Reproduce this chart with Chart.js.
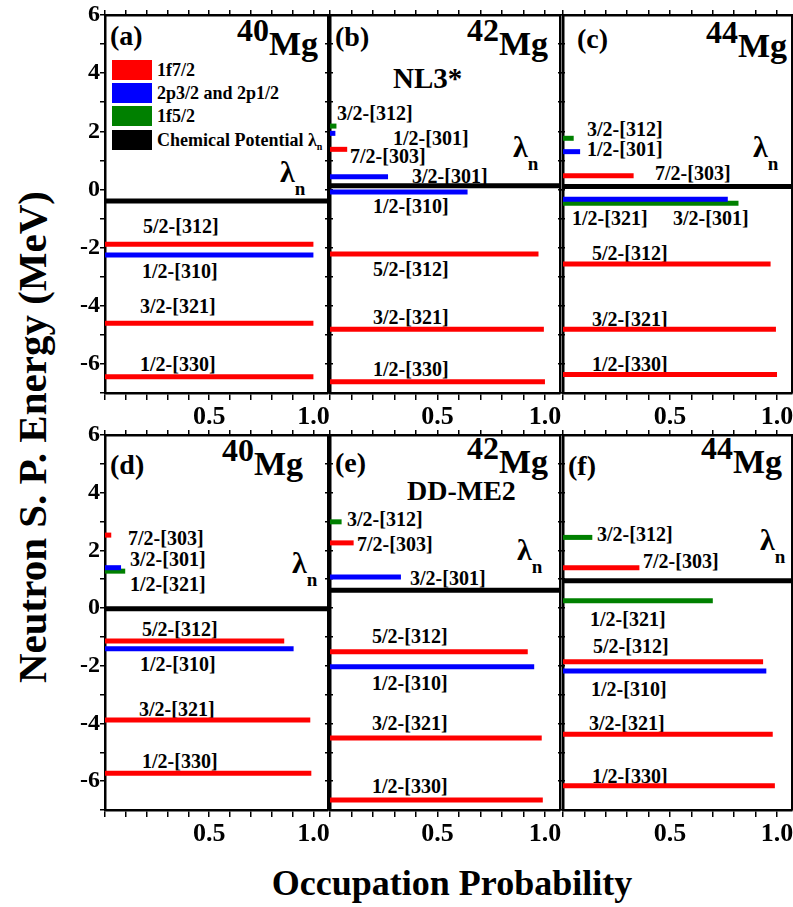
<!DOCTYPE html>
<html lang="en">
<head>
<meta charset="utf-8">
<title>Neutron single-particle levels of 40,42,44Mg</title>
<script src="https://cdn.jsdelivr.net/npm/chart.js@4.4.1/dist/chart.umd.min.js"></script>
<style>
    body { margin: 0; background: #fff; }
    #page { position: relative; width: 793px; height: 907px; overflow: hidden;
            font-family: "Liberation Serif", "Times New Roman", serif; font-weight: bold; color: #000; }
    #page canvas { position: absolute; z-index: 2; }
    .txt { position: absolute; white-space: nowrap; line-height: 1; z-index: 1; }
    .box { position: absolute; width: 40px; height: 20px; z-index: 1; }
</style>
</head>
<body>
<div id="page"></div>
<script>
// ---- data ----
var panelTags = ['(a)', '(b)', '(c)', '(d)', '(e)', '(f)'];
var massNumbers = ['40', '42', '44', '40', '42', '44'];
var forceNames = ['', 'NL3*', '', '', 'DD-ME2', ''];
var chemicalPotential = [-0.40, 0.13, 0.10, -0.02, 0.62, 0.95];

var shellNames = ['1f7/2', '2p3/2 and 2p1/2', '1f5/2'];
var shellColors = ['#ff0000', '#0000ff', '#008000'];

var levelNames = [
    ['5/2-[312]', '1/2-[310]', '3/2-[321]', '1/2-[330]'],
    ['3/2-[312]', '1/2-[301]', '7/2-[303]', '3/2-[301]', '1/2-[310]', '5/2-[312]', '3/2-[321]', '1/2-[330]'],
    ['3/2-[312]', '1/2-[301]', '7/2-[303]', '3/2-[301]', '1/2-[321]', '5/2-[312]', '3/2-[321]', '1/2-[330]'],
    ['7/2-[303]', '3/2-[301]', '1/2-[321]', '5/2-[312]', '1/2-[310]', '3/2-[321]', '1/2-[330]'],
    ['3/2-[312]', '7/2-[303]', '3/2-[301]', '5/2-[312]', '1/2-[310]', '3/2-[321]', '1/2-[330]'],
    ['3/2-[312]', '7/2-[303]', '1/2-[321]', '5/2-[312]', '1/2-[310]', '3/2-[321]', '1/2-[330]']
];
// 0 = 1f7/2, 1 = 2p, 2 = 1f5/2
var levelShells = [
    [0, 1, 0, 0],
    [2, 1, 0, 1, 1, 0, 0, 0],
    [2, 1, 0, 1, 2, 0, 0, 0],
    [0, 1, 2, 0, 1, 0, 0],
    [2, 0, 1, 0, 1, 0, 0],
    [2, 0, 2, 0, 1, 0, 0]
];
var levelEnergies = [
    [-1.88, -2.25, -4.60, -6.44],
    [2.18, 1.93, 1.38, 0.44, -0.09, -2.22, -4.81, -6.61],
    [1.76, 1.30, 0.47, -0.34, -0.47, -2.56, -4.81, -6.36],
    [2.53, 1.40, 1.28, -1.14, -1.41, -3.88, -5.73],
    [2.99, 2.26, 1.08, -1.51, -2.03, -4.50, -6.65],
    [2.45, 1.40, 0.25, -1.86, -2.18, -4.37, -6.16]
];
var levelOccupations = [
    [1.0, 1.0, 1.0, 1.0],
    [0.03, 0.025, 0.08, 0.27, 0.64, 0.97, 0.995, 1.0],
    [0.05, 0.08, 0.33, 0.77, 0.82, 0.97, 0.995, 1.0],
    [0.03, 0.077, 0.097, 0.86, 0.905, 0.985, 0.99],
    [0.054, 0.11, 0.33, 0.92, 0.95, 0.985, 0.99],
    [0.137, 0.357, 0.70, 0.935, 0.95, 0.98, 0.99]
];

var xMax = 1.07, yMin = -7, yMax = 6;

// ---- layout (pixels) ----
var panelBoxes = [[105, 15, 223, 378], [330, 15, 230, 378], [563, 15, 229, 378],
                  [105, 435, 223, 375], [330, 435, 230, 375], [563, 435, 229, 375]];
// left x, baseline y of each level name
var labelPos = [
    [[143, 233], [142, 278], [140, 313], [140, 371]],
    [[337, 120], [393, 145], [350, 163], [412, 183], [373, 213], [373, 276], [373, 324], [373, 376]],
    [[587, 136], [587, 156], [655, 180], [673, 225], [572, 225], [592, 260], [592, 326], [592, 371]],
    [[128, 545], [130, 566], [130, 591], [142, 636], [140, 671], [139, 716], [142, 768]],
    [[347, 526], [357, 551], [410, 585], [372, 643], [372, 690], [372, 730], [372, 793]],
    [[597, 541], [643, 568], [590, 626], [593, 653], [591, 696], [589, 730], [592, 783]]
];
var tagPos = [[110, 45], [335, 46], [577, 48], [110, 474], [335, 472], [568, 475]];
var nucleusPos = [[318, 55], [548, 55], [787, 57], [303, 475], [548, 473], [782, 473]];
var forcePos = [[0, 0], [393, 88], [0, 0], [0, 0], [407, 500], [0, 0]];
var lambdaPos = [[280, 182], [513, 157], [753, 157], [292, 573], [517, 560], [760, 550]];

var FONT = '"Liberation Serif", "Times New Roman", serif';
Chart.defaults.font.family = FONT;
Chart.defaults.font.weight = 'bold';
Chart.defaults.color = '#000';
var page = document.getElementById('page');

function addText(html, x, base, size, right) {
    var d = document.createElement('div');
    d.className = 'txt';
    d.innerHTML = html;
    d.style.fontSize = size + 'px';
    d.style.top = (base - 0.8375 * size) + 'px';
    if (right) d.style.right = (793 - x) + 'px'; else d.style.left = x + 'px';
    page.appendChild(d);
    return d;
}

function near(v, t) { return Math.abs(v - t) < 1e-6; }

function buildPanel(p) {
    var box = panelBoxes[p], col = p % 3;
    var padL = col === 0 ? 40 : 8, padR = 8, padT = 14, padB = 45;
    var cv = document.createElement('canvas');
    cv.width = box[2] + padL + padR;
    cv.height = box[3] + padT + padB;
    cv.style.left = (box[0] - padL) + 'px';
    cv.style.top = (box[1] - padT) + 'px';
    page.appendChild(cv);

    var datasets = [{
        label: 'Chemical Potential',
        data: [{x: 0, y: chemicalPotential[p]}, {x: xMax, y: chemicalPotential[p]}],
        borderColor: '#000', borderWidth: 5, showLine: true, pointRadius: 0
    }];
    levelNames[p].forEach(function (name, i) {
        var e = levelEnergies[p][i];
        datasets.push({
            label: name,
            data: [{x: 0, y: e}, {x: levelOccupations[p][i], y: e}],
            borderColor: shellColors[levelShells[p][i]], borderWidth: 5,
            showLine: true, pointRadius: 0, borderCapStyle: 'butt'
        });
    });

    var grid = {drawOnChartArea: false, color: '#000', lineWidth: 1.5, tickLength: 5};
    var border = {display: true, color: '#000', width: 2.5};
    var blank = function () { return ''; };
    // fix the scale boxes so the plot area lands exactly on the panel
    function fixH(h) {
        return function (s) { s.height = h; s.paddingLeft = 0; s.paddingRight = 0; };
    }
    function fixW(w) {
        return function (s) { s.width = w; s.paddingTop = 0; s.paddingBottom = 0; };
    }

    new Chart(cv, {
        type: 'scatter',
        data: {datasets: datasets},
        options: {
            responsive: false,
            animation: false,
            events: [],
            layout: {padding: 0},
            plugins: {legend: {display: false}, tooltip: {enabled: false}},
            scales: {
                x: {
                    type: 'linear', position: 'bottom', min: 0, max: xMax,
                    grid: Object.assign({}, grid, {tickLength: 7}), border: border,
                    ticks: {
                        stepSize: 0.1, includeBounds: false, autoSkip: false, maxRotation: 0,
                        padding: 2, color: '#000', font: {family: FONT, weight: 'bold', size: 26},
                        callback: function (v) { return (near(v, 0.5) || near(v, 1)) ? v.toFixed(1) : ''; }
                    },
                    afterFit: fixH(padB)
                },
                x2: {
                    type: 'linear', axis: 'x', position: 'top', min: 0, max: xMax,
                    grid: grid, border: border,
                    ticks: {stepSize: 0.1, includeBounds: false, autoSkip: false, callback: blank},
                    afterFit: fixH(padT)
                },
                y: {
                    type: 'linear', position: 'left', min: yMin, max: yMax,
                    grid: grid, border: border,
                    ticks: {
                        stepSize: 1, autoSkip: false, padding: 0, color: '#000',
                        font: {family: FONT, weight: 'bold', size: 24},
                        callback: function (v) { return (col === 0 && v % 2 === 0) ? String(v) : ''; }
                    },
                    afterFit: fixW(padL)
                },
                y2: {
                    type: 'linear', axis: 'y', position: 'right', min: yMin, max: yMax,
                    grid: grid, border: border,
                    ticks: {stepSize: 1, autoSkip: false, callback: blank},
                    afterFit: fixW(padR)
                }
            }
        }
    });

    // annotations
    levelNames[p].forEach(function (name, i) {
        addText(name, labelPos[p][i][0], labelPos[p][i][1], 20, false);
    });
    addText(panelTags[p], tagPos[p][0], tagPos[p][1], 28, false);
    addText('<span style="position:relative;top:-14px;font-size:32px">' + massNumbers[p] + '</span>Mg',
        nucleusPos[p][0], nucleusPos[p][1], 34, true);
    if (forceNames[p]) {
        addText(forceNames[p], forcePos[p][0], forcePos[p][1], p === 1 ? 29 : 28, false);
    }
    addText('&lambda;<span style="font-size:19px;position:relative;top:13px">n</span>',
        lambdaPos[p][0], lambdaPos[p][1], 30, false);
}

for (var p = 0; p < 6; p++) buildPanel(p);

// legend in panel (a)
var legendNames = shellNames.concat(['Chemical Potential &lambda;<span style="font-size:10px;position:relative;top:4px">n</span>']);
var legendColors = shellColors.concat(['#000']);
legendNames.forEach(function (name, i) {
    var top = 60 + i * 23.2;
    var b = document.createElement('div');
    b.className = 'box';
    b.style.left = '112px';
    b.style.top = top + 'px';
    b.style.background = legendColors[i];
    page.appendChild(b);
    addText(name, 157, top + 16, 18, false);
});

// axis titles
var yt = document.createElement('div');
yt.className = 'txt';
yt.textContent = 'Neutron S. P. Energy (MeV)';
yt.style.fontSize = '41px';
yt.style.left = '32px';
yt.style.top = '437px';
yt.style.transform = 'translate(-50%, -50%) rotate(-90deg)';
page.appendChild(yt);

var xt = addText('Occupation Probability', 452, 895, 36, false);
xt.style.transform = 'translateX(-50%)';
</script>
</body>
</html>
